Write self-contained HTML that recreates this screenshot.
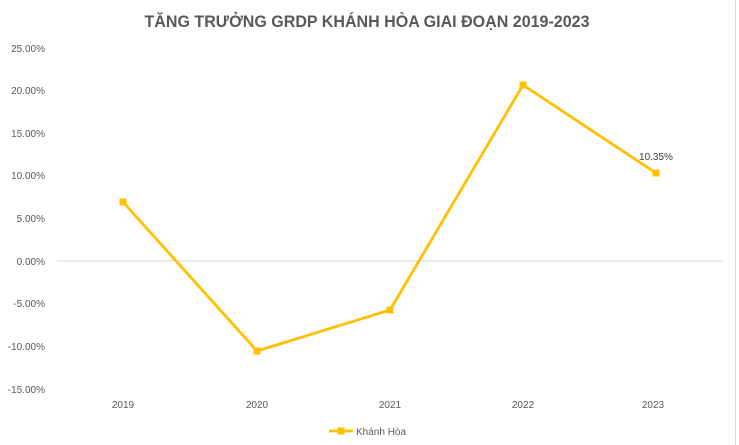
<!DOCTYPE html>
<html><head><meta charset="utf-8"><style>
html,body{margin:0;padding:0;background:#fff;}
svg{display:block;font-family:"Liberation Sans",sans-serif;}
</style></head><body>
<svg width="739" height="445" viewBox="0 0 739 445" xmlns="http://www.w3.org/2000/svg">
<rect x="0" y="0" width="739" height="445" fill="#fff"/>
<line x1="735.5" y1="0" x2="735.5" y2="445" stroke="#d9d9d9"/>
<text x="367" y="27" text-anchor="middle" font-size="16.5" font-weight="bold" fill="#595959" textLength="445" lengthAdjust="spacingAndGlyphs">TĂNG TRƯỞNG GRDP KHÁNH HÒA GIAI ĐOẠN 2019-2023</text>
<g font-size="10" fill="#595959" text-anchor="end">
<text x="45" y="52">25.00%</text>
<text x="45" y="94">20.00%</text>
<text x="45" y="137">15.00%</text>
<text x="45" y="179">10.00%</text>
<text x="45" y="222">5.00%</text>
<text x="45" y="265">0.00%</text>
<text x="45" y="307">-5.00%</text>
<text x="45" y="350">-10.00%</text>
<text x="45" y="393">-15.00%</text>
</g>
<line x1="57" y1="261" x2="723" y2="261" stroke="#d9d9d9"/>
<g font-size="10" fill="#595959" text-anchor="middle">
<text x="123" y="408">2019</text>
<text x="257" y="408">2020</text>
<text x="390" y="408">2021</text>
<text x="523" y="408">2022</text>
<text x="653" y="408">2023</text>
</g>
<polyline points="123,202 257,351 390,310 523,85 656,173" fill="none" stroke="#ffc000" stroke-width="2.8" stroke-linejoin="round"/>
<g fill="#ffc000">
<rect x="119.5" y="198.5" width="7" height="7"/>
<rect x="253.5" y="347.5" width="7" height="7"/>
<rect x="386.5" y="306.5" width="7" height="7"/>
<rect x="519.5" y="81.5" width="7" height="7"/>
<rect x="652.5" y="169.5" width="7" height="7"/>
</g>
<text x="656" y="160" font-size="10" fill="#404040" text-anchor="middle">10.35%</text>
<line x1="329" y1="431" x2="353" y2="431" stroke="#ffc000" stroke-width="2.8"/>
<rect x="337.5" y="427.5" width="7" height="7" fill="#ffc000"/>
<text x="356" y="435" font-size="10" fill="#595959">Khánh Hòa</text>
</svg>
</body></html>
